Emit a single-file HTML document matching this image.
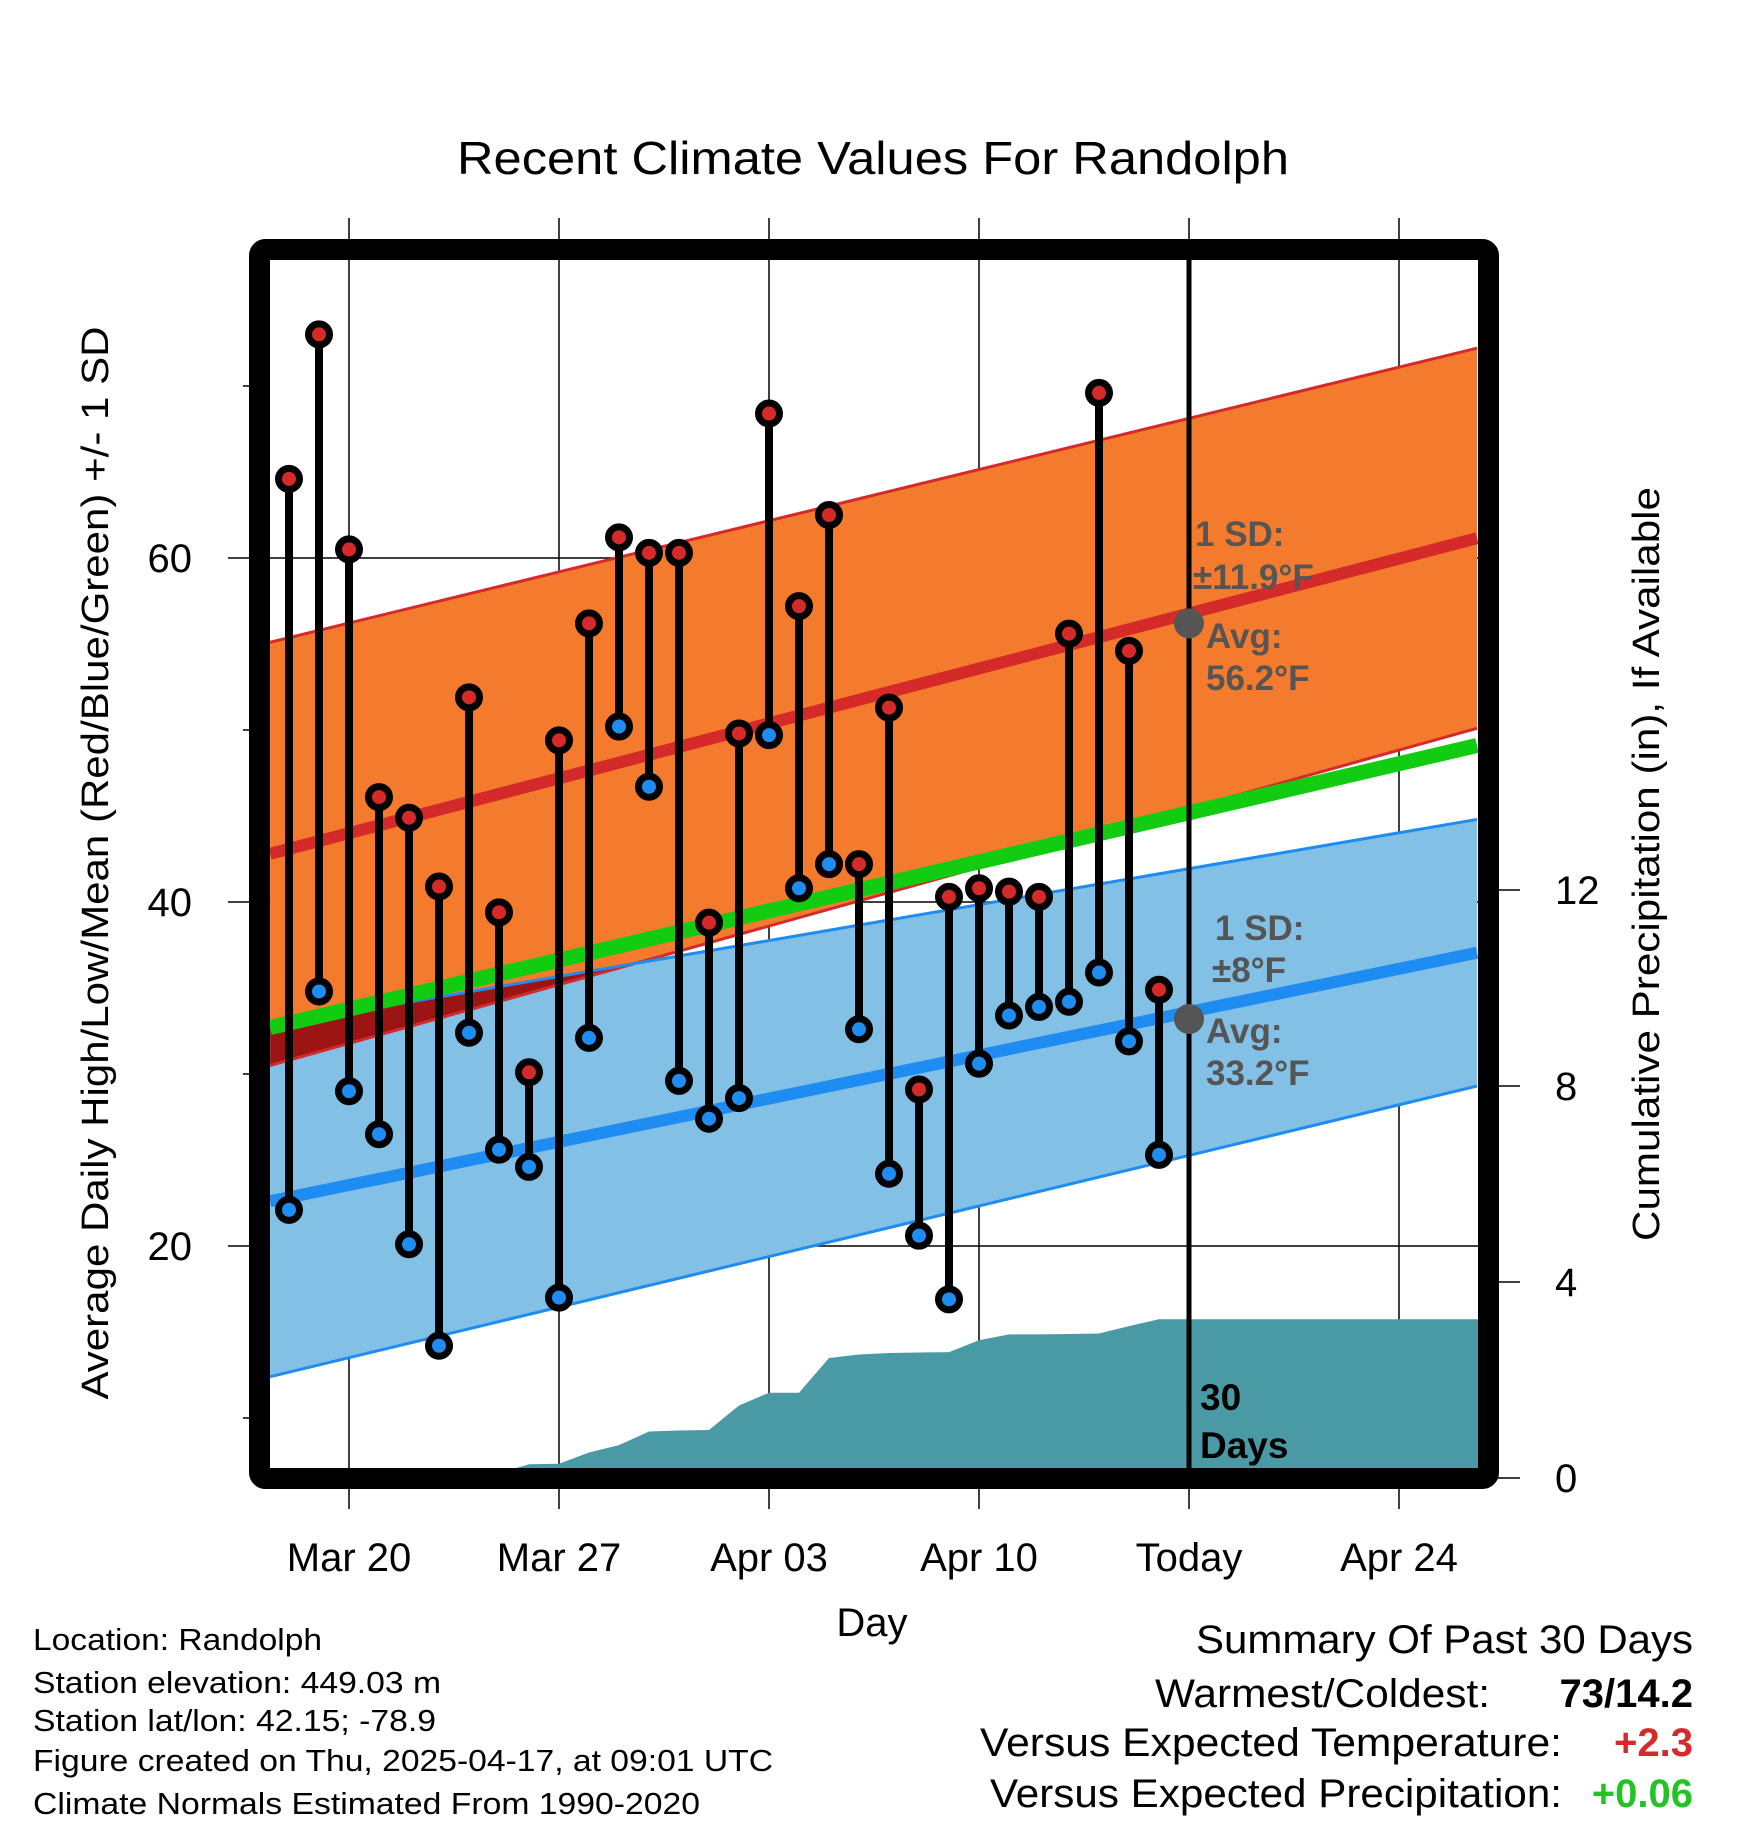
<!DOCTYPE html>
<html><head><meta charset="utf-8"><style>
html,body{margin:0;padding:0;background:#fff;}
svg{display:block;font-family:"Liberation Sans",Arial,sans-serif;}
</style></head><body>
<svg id="chart" width="1748" height="1828" viewBox="0 0 1748 1828" xmlns="http://www.w3.org/2000/svg">
<defs><clipPath id="plotclip"><rect x="270" y="260" width="1208" height="1208"/></clipPath></defs>
<text x="873" y="174" font-size="46" text-anchor="middle" textLength="832" lengthAdjust="spacingAndGlyphs">Recent Climate Values For Randolph</text>
<g id="grid"></g>
<g id="plot" clip-path="url(#plotclip)"></g>
<g id="marks"></g>
<rect x="259.5" y="249.5" width="1229" height="1229" rx="6" fill="none" stroke="#000" stroke-width="21"/>
<g id="axes"></g>
<text transform="translate(108,863) rotate(-90)" font-size="38" text-anchor="middle" textLength="1073" lengthAdjust="spacingAndGlyphs">Average Daily High/Low/Mean (Red/Blue/Green) +/- 1 SD</text>
<text transform="translate(1659,864) rotate(-90)" font-size="38" text-anchor="middle" textLength="754" lengthAdjust="spacingAndGlyphs">Cumulative Precipitation (in), If Available</text>
<text x="872" y="1636" font-size="40" text-anchor="middle">Day</text>
<g font-size="31">
<text x="33" y="1650" textLength="289" lengthAdjust="spacingAndGlyphs">Location: Randolph</text>
<text x="33" y="1693" textLength="408" lengthAdjust="spacingAndGlyphs">Station elevation: 449.03 m</text>
<text x="33" y="1731" textLength="403" lengthAdjust="spacingAndGlyphs">Station lat/lon: 42.15; -78.9</text>
<text x="33" y="1771" textLength="740" lengthAdjust="spacingAndGlyphs">Figure created on Thu, 2025-04-17, at 09:01 UTC</text>
<text x="33" y="1814" textLength="667" lengthAdjust="spacingAndGlyphs">Climate Normals Estimated From 1990-2020</text>
</g>
<g font-size="40" text-anchor="end">
<text x="1693" y="1653" textLength="497" lengthAdjust="spacingAndGlyphs">Summary Of Past 30 Days</text>
<text x="1490" y="1707" textLength="335" lengthAdjust="spacingAndGlyphs">Warmest/Coldest:</text>
<text x="1693" y="1707" font-weight="bold">73/14.2</text>
<text x="1562" y="1756" textLength="582" lengthAdjust="spacingAndGlyphs">Versus Expected Temperature:</text>
<text x="1693" y="1756" font-weight="bold" fill="#d42a2a">+2.3</text>
<text x="1562" y="1807" textLength="572" lengthAdjust="spacingAndGlyphs">Versus Expected Precipitation:</text>
<text x="1693" y="1807" font-weight="bold" fill="#22c322">+0.06</text>
</g>
<script>
const highs=[64.6,73.0,60.5,46.1,44.9,40.9,51.9,39.4,30.1,49.4,56.2,61.2,60.3,60.3,38.8,49.8,68.4,57.2,62.5,42.2,51.3,29.1,40.3,40.8,40.6,40.3,55.6,69.6,54.6,34.9];
const lows=[22.1,34.8,29.0,26.5,20.1,14.2,32.4,25.6,24.6,17.0,32.1,50.2,46.7,29.6,27.4,28.6,49.7,40.8,42.2,32.6,24.2,20.6,16.9,30.6,33.4,33.9,34.2,35.9,31.9,25.3];
const precip=[0,0,0,0,0,0,0,0.1,0.28,0.29,0.52,0.67,0.95,0.97,0.98,1.48,1.74,1.74,2.45,2.52,2.55,2.56,2.57,2.81,2.93,2.93,2.94,2.95,3.10,3.24];
const normDays=[-2.63,37.6];
const highMean=[42.8,61.15];
const highSD=[12.3,11.05];
const lowMean=[22.6,37.05];
const lowSD=[10.2,7.75];
const xTickDays=[0,7,14,21,28,35];
const xTickLabels=["Mar 20","Mar 27","Apr 03","Apr 10","Today","Apr 24"];
const yTicks=[20,40,60];
const yMinor=[10,30,50,70];
const pTicks=[0,4,8,12];
const firstDay=-2, todayDay=28, todayHighAvg=56.2, todayLowAvg=33.2;

const NS="http://www.w3.org/2000/svg";
const X=d=>349+30*d, Y=t=>558-17.2*(t-60), P=p=>1478-49*p;
function mk(tag,attrs,parent){const e=document.createElementNS(NS,tag);for(const k in attrs)e.setAttribute(k,attrs[k]);parent.appendChild(e);return e;}
const grid=document.getElementById('grid'),plot=document.getElementById('plot'),marks=document.getElementById('marks'),axes=document.getElementById('axes');
xTickDays.forEach((d,i)=>{
 const l=mk('line',{x1:X(d),x2:X(d),y1:218,y2:1509,stroke:'#000','stroke-width':1.5},grid);
 
 
 const t=mk('text',{x:X(d),y:1571,'font-size':40,'text-anchor':'middle'},axes);t.textContent=xTickLabels[i];
 
 
});
yTicks.forEach(v=>{
 const l=mk('line',{x1:228,x2:1478,y1:Y(v),y2:Y(v),stroke:'#000','stroke-width':1.5},grid);
 
 
 const t=mk('text',{x:192,y:Y(v)+14,'font-size':40,'text-anchor':'end'},axes);t.textContent=v;
 
 
});
yMinor.forEach(v=>{const l=mk('line',{x1:243,x2:250,y1:Y(v),y2:Y(v),stroke:'#000','stroke-width':1.5},axes);
 
 });
pTicks.forEach(v=>{
 const l=mk('line',{x1:1498,x2:1520,y1:P(v),y2:P(v),stroke:'#000','stroke-width':1.5},axes);
 
 
 const t=mk('text',{x:1555,y:P(v)+14,'font-size':40},axes);t.textContent=v;
 
 
});
const d0=normDays[0],d1=normDays[1];
function band(mean,sd,sign){return [[X(d0),Y(mean[0]+sign*sd[0])],[X(d1),Y(mean[1]+sign*sd[1])]];}
function poly(top,bot){return top.concat(bot.slice().reverse()).map(p=>p.join(',')).join(' ');}
const hT=band(highMean,highSD,1),hB=band(highMean,highSD,-1),lT=band(lowMean,lowSD,1),lB=band(lowMean,lowSD,-1);
const defs=document.querySelector('defs');
const cp=mk('clipPath',{id:'orangeclip'},defs);mk('polygon',{points:poly(hT,hB)},cp);
let e;
e=mk('polygon',{points:poly(hT,hB),fill:'#f47a2e'},plot);
e=mk('polygon',{points:poly(lT,lB),fill:'#82c0e6'},plot);
e=mk('polygon',{points:poly(lT,lB),fill:'#9c1414','clip-path':'url(#orangeclip)'},plot);
function ln(pts,color,w,name){const l=mk('line',{x1:pts[0][0],y1:pts[0][1],x2:pts[1][0],y2:pts[1][1],stroke:color,'stroke-width':w},plot);}
ln(hT,'#d42a2a',3,'high-sd-upper');ln(hB,'#d42a2a',3,'high-sd-lower');
ln(lT,'#1e8cf0',3,'low-sd-upper');ln(lB,'#1e8cf0',3,'low-sd-lower');
ln([[X(d0),Y((highMean[0]+lowMean[0])/2)],[X(d1),Y((highMean[1]+lowMean[1])/2)]],'#11cc11',15,'mean-normal-line');
ln([[X(d0),Y(highMean[0])],[X(d1),Y(highMean[1])]],'#d42a2a',12,'high-normal-line');
ln([[X(d0),Y(lowMean[0])],[X(d1),Y(lowMean[1])]],'#1e8cf0',12,'low-normal-line');
let pts=[[270,P(0)]];
precip.forEach((p,i)=>pts.push([X(firstDay+i),P(p)]));
pts.push([1478,P(precip[precip.length-1])],[1478,P(0)]);
e=mk('polygon',{points:pts.map(p=>p.join(',')).join(' '),fill:'#4a9aa5'},plot);
e=mk('line',{x1:X(todayDay),x2:X(todayDay),y1:260,y2:1470,stroke:'#000','stroke-width':5},marks);
[[todayHighAvg],[todayLowAvg]].forEach(a=>{const c=mk('circle',{cx:X(todayDay),cy:Y(a[0]),r:15,fill:'#555'},marks);});
const ann=[["1 SD:",1195,546],["±11.9°F",1193,589],["Avg:",1206,648],["56.2°F",1206,690],["1 SD:",1215,940],["±8°F",1212,982],["Avg:",1206,1043],["33.2°F",1206,1085]];
ann.forEach(a=>{const t=mk('text',{x:a[1],y:a[2],'font-size':35,'font-weight':'bold',fill:'#555'},marks);t.textContent=a[0];
 
 });
[["30",1200,1410],["Days",1200,1458]].forEach(a=>{const t=mk('text',{x:a[1],y:a[2],'font-size':37,'font-weight':'bold'},marks);t.textContent=a[0];
 
 });
highs.forEach((h,i)=>{
 const x=X(firstDay+i),l=lows[i];
 const s=mk('line',{x1:x,x2:x,y1:Y(h),y2:Y(l),stroke:'#000','stroke-width':8},marks);
 
 
 const hc=mk('circle',{cx:x,cy:Y(h),r:10.5,fill:'#d42a2a',stroke:'#000','stroke-width':7},marks);
 
 
 const lc=mk('circle',{cx:x,cy:Y(l),r:10.5,fill:'#1e8cf0',stroke:'#000','stroke-width':7},marks);
 
 
});
</script>
</svg>
</body></html>
